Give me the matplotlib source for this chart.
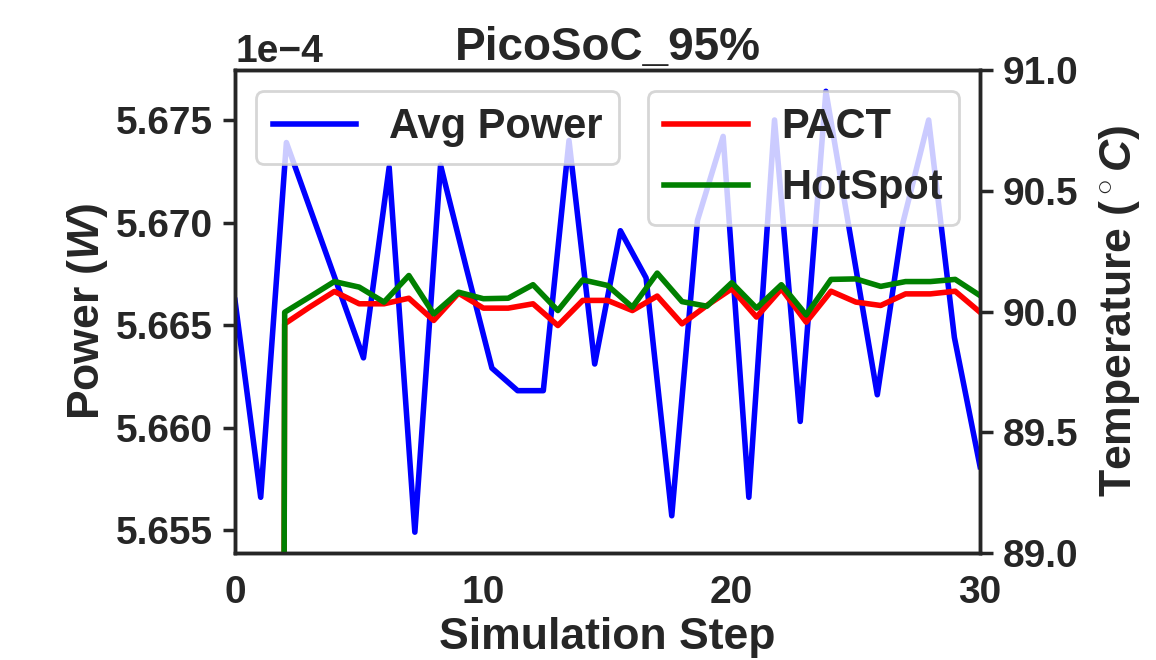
import numpy as np
import matplotlib
matplotlib.use("Agg")
import matplotlib.pyplot as plt

# Data
# Power samples: 30 samples spread over 0..30 simulation steps
power_steps = np.linspace(0, 30, 30)
avg_power = [5.6662, 5.6566, 5.6739, 5.6704, 5.6669, 5.6634, 5.6727, 5.6549,
             5.6728, 5.6678, 5.6629, 5.6618, 5.6618, 5.6740, 5.6631, 5.6696,
             5.6673, 5.6557, 5.6701, 5.6742, 5.6566, 5.6750, 5.6603, 5.6764,
             5.6690, 5.6616, 5.6700, 5.6750, 5.6644, 5.6581]
avg_power = [p * 1e-4 for p in avg_power]

# Temperatures: one value per simulation step 0..30
temp_steps = list(range(0, 31))
pact = [45.0, 45.0, 89.949, 90.018, 90.083, 90.032, 90.032, 90.055, 89.963,
        90.076, 90.014, 90.014, 90.032, 89.942, 90.046, 90.046, 90.004,
        90.064, 89.949, 90.025, 90.094, 89.977, 90.094, 89.956, 90.084,
        90.039, 90.025, 90.073, 90.073, 90.084, 89.997]
hotspot = [45.0, 45.0, 89.997, 90.060, 90.124, 90.101, 90.039, 90.149, 89.990,
           90.080, 90.053, 90.055, 90.111, 90.004, 90.131, 90.108, 90.018,
           90.159, 90.041, 90.022, 90.119, 90.014, 90.111, 89.986, 90.133,
           90.135, 90.104, 90.124, 90.124, 90.133, 90.066]

x_ticks = [0, 10, 20, 30]
temp_ticks = [89.0, 89.5, 90.0, 90.5, 91.0]

dark = "0.15"
plt.rcParams["font.family"] = ["Liberation Sans", "DejaVu Sans"]
plt.rcParams["font.weight"] = "bold"
plt.rcParams["axes.labelweight"] = "bold"
plt.rcParams["axes.titleweight"] = "bold"
plt.rcParams["mathtext.fontset"] = "custom"
plt.rcParams["mathtext.rm"] = "Liberation Sans:bold"
plt.rcParams["mathtext.it"] = "Liberation Sans:italic:bold"
plt.rcParams["mathtext.bf"] = "Liberation Sans:bold"
plt.rcParams["text.color"] = dark
plt.rcParams["axes.labelcolor"] = dark
plt.rcParams["xtick.color"] = dark
plt.rcParams["ytick.color"] = dark
plt.rcParams["axes.edgecolor"] = dark
plt.rcParams["axes.linewidth"] = 1.25

fig = plt.figure(figsize=(5.78, 3.3), dpi=200)
ax1 = fig.add_axes([0.2033, 0.162, 0.6445, 0.732])
ax2 = ax1.twinx()

ax1.plot(power_steps, avg_power, color="b", lw=2, label="Avg Power")
ax2.plot(temp_steps, pact, color="r", lw=2, label="PACT")
ax2.plot(temp_steps, hotspot, color="g", lw=2, label="HotSpot")

ax1.set_xlim(0, 30)
ax1.set_xticks(x_ticks)
ax1.set_ylim(5.65388e-4, 5.67744e-4)
ax1.ticklabel_format(axis="y", style="sci", scilimits=(-4, -4), useOffset=False)
ax2.set_ylim(89.0, 91.0)
ax2.set_yticks(temp_ticks)

ax1.tick_params(axis="y", labelsize=14, length=4.5, width=1.25)
ax1.tick_params(axis="x", labelsize=14, length=0, pad=8)
ax2.tick_params(axis="y", labelsize=14, length=4.5, width=1.25)
ax1.yaxis.get_offset_text().set_fontsize(14)

ax1.set_xlabel("Simulation Step", fontsize=16, labelpad=2)
ax1.set_ylabel("Power ($W$)", fontsize=16, labelpad=2)
ax2.set_ylabel(r"Temperature ($^\circ C$)", fontsize=16, labelpad=7)
ax1.set_title("PicoSoC_95%", fontsize=16.5, pad=3.5)

ax1.legend(loc="upper left", fontsize=15)
ax2.legend(loc="upper right", fontsize=15)

fig.savefig("out.png", dpi=200)
